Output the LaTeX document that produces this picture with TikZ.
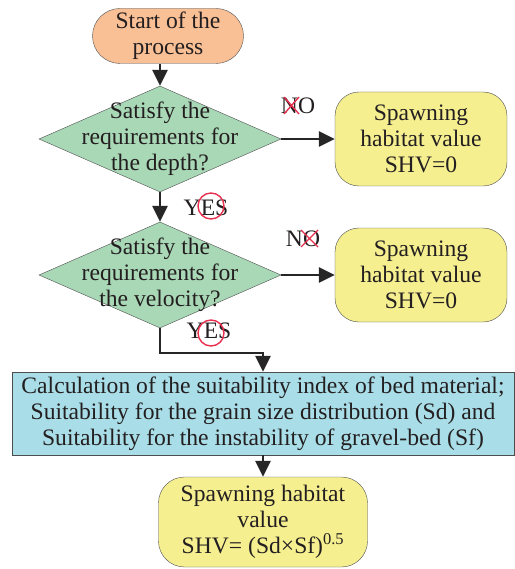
\documentclass[tikz,border=0pt]{standalone}
\usepackage{fontspec}
\setmainfont{Liberation Serif}
\usetikzlibrary{shapes.geometric,shapes.misc,arrows.meta}
\definecolor{startorange}{HTML}{F9BF95}
\definecolor{decgreen}{HTML}{A9D8B6}
\definecolor{shvyellow}{HTML}{F5EF90}
\definecolor{calcblue}{HTML}{A9DDE7}
\definecolor{txtgray}{HTML}{231F20}
\definecolor{linegray}{HTML}{4D4D4D}
\definecolor{crossred}{HTML}{E8304F}

\begin{document}
\begin{tikzpicture}[x=1pt,y=-1pt,
		every node/.style={font=\fontsize{23.6}{26}\selectfont, text=txtgray, align=center},
		startbox/.style={rounded rectangle, draw=linegray, fill=startorange, minimum width=151pt, minimum height=55pt, inner sep=0pt},
		decbox/.style={diamond, draw=linegray, fill=decgreen, minimum width=242pt, minimum height=106pt, inner sep=0pt},
		shvbox/.style={rectangle, rounded corners=24pt, draw=linegray, fill=shvyellow, minimum width=172pt, minimum height=94pt, inner sep=0pt},
		calcbox/.style={rectangle, draw=linegray, fill=calcblue, minimum width=502pt, minimum height=83pt, inner sep=0pt},
		flow/.style={line width=2.6pt, draw=black!85, -{Triangle[length=16pt,width=15pt]}},
		redmark/.style={draw=crossred, line width=1.4pt},
	]
	\useasboundingbox (0,0) rectangle (514,569);
	
	\node[startbox] (start) at (168,36) {Start of the\\process};
	
	\node[decbox] (depth) at (160,139) {};
	\node (depthtxt) at (depth) {Satisfy the\\requirements for\\the depth?};
	\node[shvbox] (shvdepth) at (421,139) {Spawning\\habitat value\\SHV=0};
	
	\node[decbox] (velo) at (160,275) {};
	\node (velotxt) at (velo) {Satisfy the\\requirements for\\the velocity?};
	\node[shvbox] (shvvelo) at (421,275) {Spawning\\habitat value\\SHV=0};
	
	\node[calcbox] (calc) at (263,413.5) {Calculation of the suitability index of bed material;\\Suitability for the grain size distribution (Sd) and\\Suitability for the instability of gravel-bed (Sf)};
	
	\node[shvbox, minimum width=209pt, minimum height=90pt, rounded corners=26pt] (shv) at (263,522) {Spawning habitat\\value\\SHV= (Sd×Sf)\textsuperscript{0.5}};
	
	% connectors
	\coordinate (bend) at (263,353);
	\draw[flow] (start.south -| depth) -- (depth.north);
	\draw[flow] (depth.east) -- (shvdepth.west);
	\draw[flow] (depth.south) -- (velo.north);
	\draw[flow] (velo.east) -- (shvvelo.west);
	\draw[flow] (velo.south) |- (bend) -- (calc.north);
	\draw[flow] (calc.south) -- (shv.north);
	
	% yes / no labels
	\node (nodepth) at (298,106) {NO};
	\node (novelo) at (303,239) {NO};
	\node (yesdepth) at (206,208) {YES};
	\node (yesvelo) at (209,331) {YES};
	\draw[redmark] (284,97) -- (299,114) (284,114) -- (299,97);
	\draw[redmark] (301,230) -- (318,247) (301,247) -- (318,230);
	\draw[redmark] (211,206) circle (13);
	\draw[redmark] (211,333) circle (13);
\end{tikzpicture}
\end{document}
